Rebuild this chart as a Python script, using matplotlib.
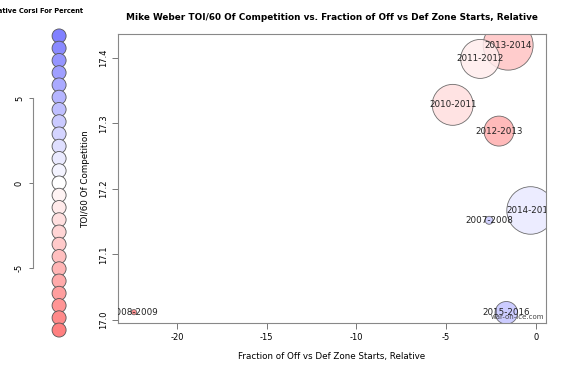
import numpy as np
import matplotlib
matplotlib.use("Agg")
import matplotlib.pyplot as plt

# season data
seasons = ["2013-2014", "2011-2012", "2010-2011", "2012-2013",
           "2014-2015", "2007-2008", "2015-2016", "2008-2009"]
zone_start_rel = [-1.54, -3.10, -4.63, -2.05, -0.29, -2.60, -1.64, -22.39]
toi_comp = [17.419, 17.398, 17.328, 17.288, 17.167, 17.152, 17.011, 17.012]
rel_corsi = [-4.0, -1.2, -2.2, -5.5, 1.5, 3.5, 4.0, -9.0]
games = [625, 380, 420, 225, 566, 16, 128, 7]

# colour scale legend
legend_levels = np.linspace(8.65, -8.65, 25)
legend_ticks = [-5, 0, 5]
x_ticks = [-20, -15, -10, -5, 0]
y_ticks = [17.0, 17.1, 17.2, 17.3, 17.4]


def corsi_color(v):
    t = min(abs(v) / 8.65, 1.0)
    if v >= 0:
        return (1 - 0.5 * t, 1 - 0.5 * t, 1.0)
    return (1.0, 1 - 0.5 * t, 1 - 0.5 * t)


W, H = 575, 366
fig = plt.figure(figsize=(W / 100, H / 100), dpi=100)

# main bubble plot
ax = fig.add_axes([118 / W, 1 - 323.3 / H, 428 / W, 289.3 / H])
sizes = [g * 2.07 for g in games]
cols = [corsi_color(v) for v in rel_corsi]
ax.scatter(zone_start_rel, toi_comp, s=sizes, c=cols, alpha=0.85,
           edgecolors="#555555", linewidths=0.6, zorder=2)
for name, x, y in zip(seasons, zone_start_rel, toi_comp):
    ax.text(x, y, name, fontsize=6.3, color="#222222", ha="center",
            va="center", clip_on=True, zorder=3)
ax.text(0.995, 0.012, "war-on-ice.com", transform=ax.transAxes, fontsize=5,
        color="#444444", ha="right", va="bottom")

ax.set_xlim(-23.28, 0.57)
ax.set_ylim(16.995, 17.436)
ax.set_xticks(x_ticks)
ax.set_xticklabels(["-20", "-15", "-10", "-5", "0"])
ax.set_yticks(y_ticks)
ax.set_yticklabels(["17.0", "17.1", "17.2", "17.3", "17.4"], rotation=90,
                   va="center")
ax.tick_params(labelsize=6, color="#777777", length=4, width=0.7, pad=3)
for sp in ax.spines.values():
    sp.set_color("#888888")
    sp.set_linewidth(0.8)
ax.set_xlabel("Fraction of Off vs Def Zone Starts, Relative", fontsize=6.3,
              labelpad=7)
ax.set_ylabel("TOI/60 Of Competition", fontsize=6.3, labelpad=7)
ax.set_title("Mike Weber TOI/60 Of Competition vs. Fraction of Off vs Def Zone Starts, Relative",
             fontsize=6.4, fontweight="bold", pad=10)

# colour legend column
lax = fig.add_axes([33 / W, 1 - 336 / H, 60 / W, 306 / H])
lax.scatter(np.full(len(legend_levels), 1.0), legend_levels, s=102,
            c=[corsi_color(v) for v in legend_levels],
            edgecolors="#555555", linewidths=0.6, clip_on=False)
lax.set_xlim(0, 2.3)
lax.set_ylim(-9, 9)
lax.set_xticks([])
lax.set_yticks(legend_ticks)
lax.set_yticklabels(["-5", "0", "5"], rotation=90, va="center")
lax.tick_params(labelsize=6, color="#777777", length=3, width=0.7)
for s in ["top", "right", "bottom"]:
    lax.spines[s].set_visible(False)
lax.spines["left"].set_bounds(-5, 5)
lax.spines["left"].set_color("#888888")
lax.patch.set_visible(False)
fig.text(83 / W, 1 - 11 / H, "Relative Corsi For Percent", fontsize=4.8,
         fontweight="bold", ha="right", va="center")

fig.savefig("out.png", dpi=100)
